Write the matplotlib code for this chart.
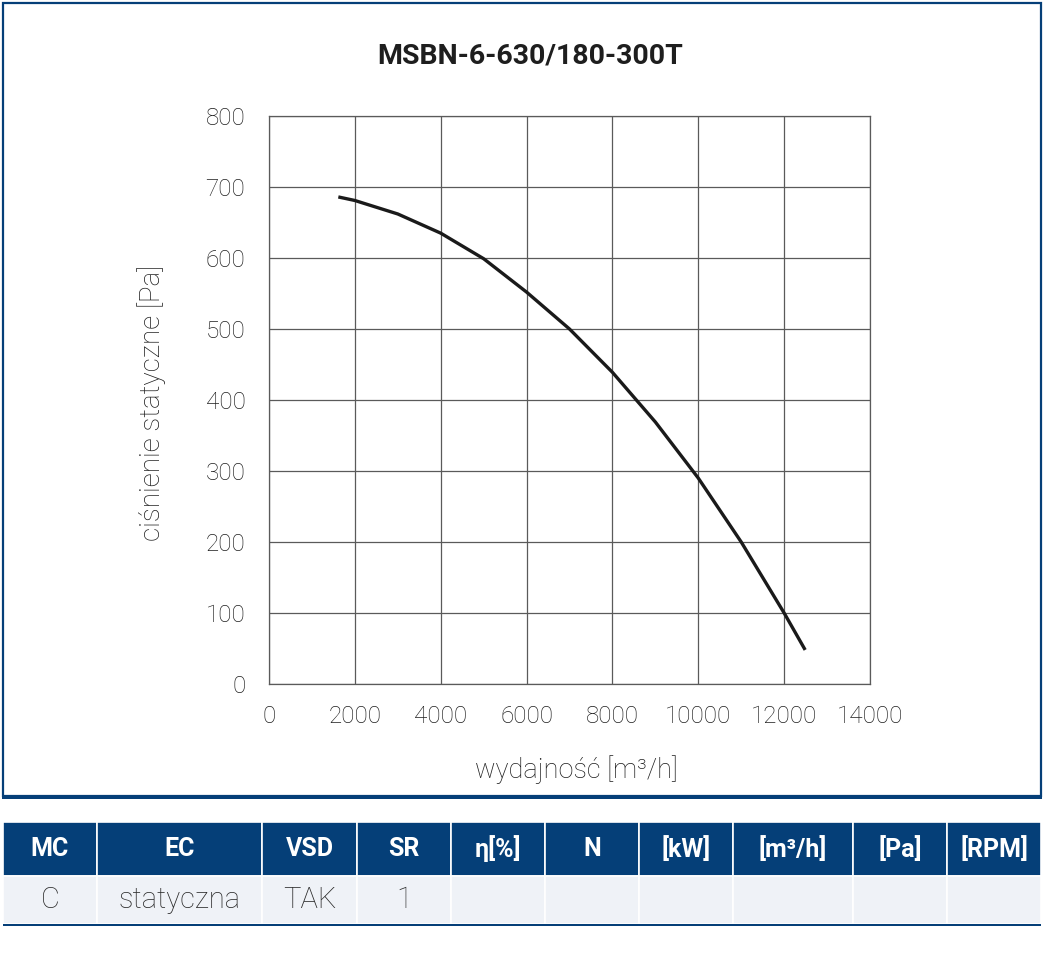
import matplotlib
matplotlib.use("Agg")
import matplotlib.pyplot as plt
from matplotlib import font_manager as fm
from matplotlib.patches import Rectangle

# ---------------- data ----------------
title = "MSBN-6-630/180-300T"
flow = [1615, 2000, 3000, 4000, 5000, 6000, 7000, 8000, 9000, 10000, 11000, 12000, 12490]
pressure = [686, 681, 662, 635, 599, 552, 500, 439, 369, 290, 200, 100, 48]
x_ticks = [0, 2000, 4000, 6000, 8000, 10000, 12000, 14000]
y_ticks = [0, 100, 200, 300, 400, 500, 600, 700, 800]
x_label = "wydajność [m³/h]"
y_label = "ciśnienie statyczne [Pa]"
table_header = ["MC", "EC", "VSD", "SR", "η[%]", "N", "[kW]", "[m³/h]", "[Pa]", "[RPM]"]
table_row = ["C", "statyczna", "TAK", "1", "", "", "", "", "", ""]

# ---------------- fonts ----------------
avail = {f.name for f in fm.fontManager.ttflist}
def pick(cands):
    for c in cands:
        if c in avail:
            return c
    return "DejaVu Sans"
bold_font = pick(["Roboto", "Lato", "Open Sans", "DejaVu Sans"])
light = pick(["Roboto", "Lato", "Open Sans", "DejaVu Sans"])

NAVY = "#053f78"
TXT = "#1e1e1e"
W, H = 1043, 957
fig = plt.figure(figsize=(W / 100, H / 100), dpi=100)

def fx(px):
    return px / W
def fy(py):
    return 1 - py / H

# frame around chart
fig.add_artist(Rectangle((fx(2.5), fy(796)), fx(1040.5 - 2.5), fy(2.5) - fy(796),
                         transform=fig.transFigure, fill=False, edgecolor=NAVY, lw=1.6))
fig.add_artist(Rectangle((fx(1.5), fy(798.5)), fx(1040), fy(795.5) - fy(798.5),
                         transform=fig.transFigure, facecolor=NAVY, edgecolor="none"))

ax = fig.add_axes([fx(269), fy(684), fx(870 - 269), fy(116) - fy(684)])
ax.plot(flow, pressure, color="#1a1a1a", lw=2.4, solid_capstyle="butt", solid_joinstyle="round")
ax.set_xlim(0, 14000)
ax.set_ylim(0, 800)
ax.set_xticks(x_ticks)
ax.set_yticks(y_ticks)
ax.set_xticklabels([str(v) for v in x_ticks], fontfamily=light, fontweight="light", fontsize=17.5, color=TXT)
ax.set_yticklabels([str(v) for v in y_ticks], fontfamily=light, fontweight="light", fontsize=17.5, color=TXT)
ax.tick_params(axis="y", length=0, pad=17)
ax.tick_params(axis="x", length=0, pad=15)
ax.grid(True, color="#5a5a5a", lw=0.9)
for s in ax.spines.values():
    s.set_color("#5a5a5a")
    s.set_linewidth(0.9)
ax.set_axisbelow(True)

fig.text(fx(530), fy(56), title, ha="center", va="center", fontsize=20.5, fontweight="bold",
         fontfamily=bold_font, color=TXT)
fig.text(fx(576), fy(770), x_label, ha="center", va="center", fontsize=19.5, fontfamily=light,
         fontweight="light", color=TXT)
fig.text(fx(152), fy(403), y_label, ha="center", va="center", rotation=90, fontsize=20,
         fontfamily=light, fontweight="light", color=TXT)

# ---------------- table ----------------
edges = [3, 97, 262, 357, 451, 545, 639, 733, 853, 947, 1041]
top, mid, bot = 822, 876, 924
for i in range(len(table_header)):
    x0, x1 = edges[i], edges[i + 1]
    fig.add_artist(Rectangle((fx(x0), fy(mid)), fx(x1 - x0), fy(top) - fy(mid),
                             transform=fig.transFigure, facecolor=NAVY, edgecolor="white", lw=1.2))
    fig.add_artist(Rectangle((fx(x0), fy(bot)), fx(x1 - x0), fy(mid) - fy(bot),
                             transform=fig.transFigure, facecolor="#eff2f7", edgecolor="white", lw=1.2))
    cx = (x0 + x1) / 2
    fig.text(fx(cx), fy((top + mid) / 2), table_header[i], ha="center", va="center", color="white",
             fontsize=18, fontweight="bold", fontfamily=bold_font)
    if table_row[i]:
        fig.text(fx(cx), fy((mid + bot) / 2), table_row[i], ha="center", va="center", color="#2a2a2a",
                 fontsize=21, fontweight="light", fontfamily=light)
fig.add_artist(Rectangle((fx(3), fy(926)), fx(1038), fy(923.5) - fy(926),
                         transform=fig.transFigure, facecolor=NAVY, edgecolor="none"))

fig.savefig("out.png", dpi=100)
